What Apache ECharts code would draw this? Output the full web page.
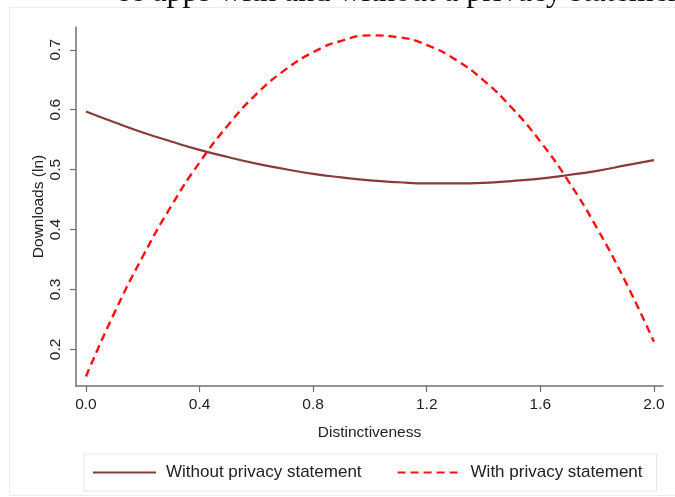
<!DOCTYPE html>
<html>
<head>
<meta charset="utf-8">
<script src="https://cdn.jsdelivr.net/npm/echarts@6/dist/echarts.min.js"></script>
<style>
html,body{margin:0;padding:0;background:#fff;}
#chart{width:675px;height:497px;}
</style>
</head>
<body>
<div id="chart"></div>
<script>
// Data
var distinctiveness = [0.0,0.1,0.2,0.3,0.4,0.5,0.6,0.7,0.8,0.9,1.0,1.1,1.2,1.3,1.4,1.5,1.6,1.7,1.8,1.9,2.0];
var withoutPrivacy = [0.597,0.579,0.562,0.547,0.533,0.521,0.510,0.501,0.493,0.487,0.482,0.479,0.477,0.477,0.478,0.481,0.485,0.491,0.498,0.507,0.516];
var withPrivacy = [0.155,0.261,0.355,0.439,0.512,0.574,0.626,0.666,0.696,0.715,0.724,0.721,0.708,0.684,0.649,0.603,0.547,0.480,0.402,0.313,0.213];
var xTicks = [0.0,0.4,0.8,1.2,1.6,2.0];
var yTicks = [0.2,0.3,0.4,0.5,0.6,0.7];
var seriesNames = ['Without privacy statement','With privacy statement'];
var titleText = 'ee apps with and without a privacy statement';

function pairs(xs, ys){ return xs.map(function(x,i){ return [x, ys[i]]; }); }

var font = '"Liberation Sans", Arial, Helvetica, sans-serif';
var axisColor = '#707070';
var chart = echarts.init(document.getElementById('chart'), null, {renderer:'canvas'});
chart.setOption({
  animation:false,
  backgroundColor:'#ffffff',
  textStyle:{fontFamily:font},
  graphic:[
    {type:'rect', shape:{x:9.5,y:7.5,width:700,height:488}, style:{fill:'none', stroke:'#ececec', lineWidth:1}, silent:true, z:-10},
    {type:'text', x:116, y:-7.5, style:{text:titleText, font:'32px "Liberation Serif", "Times New Roman", serif', fill:'#111', textAlign:'left', textVerticalAlign:'middle', verticalAlign:'middle'}, silent:true}
  ],
  grid:{left:76, right:12, top:27, bottom:111, containLabel:false},
  xAxis:{
    type:'value', min:-0.035, max:2.032,
    name:'Distinctiveness', nameLocation:'middle', nameGap:39, nameMoveOverlap:false,
    nameTextStyle:{fontSize:15.5, color:'#222', fontFamily:font},
    axisLine:{show:true, onZero:false, lineStyle:{color:axisColor, width:1.5}},
    axisTick:{show:true, length:6, customValues:xTicks, lineStyle:{color:axisColor, width:1.2}},
    axisLabel:{customValues:xTicks, margin:11, fontSize:15.5, color:'#222', fontFamily:font,
      formatter:function(v){ return v.toFixed(1); }},
    splitLine:{show:false}
  },
  yAxis:{
    type:'value', min:0.139, max:0.738,
    name:'Downloads (ln)', nameLocation:'middle', nameRotate:90, nameGap:29.5, nameMoveOverlap:false,
    nameTextStyle:{fontSize:15.5, color:'#222', fontFamily:font},
    axisLine:{show:true, onZero:false, lineStyle:{color:axisColor, width:1.5}},
    axisTick:{show:true, length:6, customValues:yTicks, lineStyle:{color:axisColor, width:1.2}},
    axisLabel:{customValues:yTicks, rotate:90, margin:12, fontSize:15.5, color:'#222', fontFamily:font,
      formatter:function(v){ return v.toFixed(1); }},
    splitLine:{show:false}
  },
  legend:{
    left:84, top:454,
    padding:[10,14,10,8],
    itemWidth:63, itemHeight:14, itemGap:35,
    borderColor:'#e6e6e6', borderWidth:1, backgroundColor:'#fff',
    itemStyle:{opacity:0},
    textStyle:{fontSize:17, color:'#222', fontFamily:font, padding:[0,0,0,5]},
    data:seriesNames
  },
  series:[
    {name:seriesNames[0], type:'line', data:pairs(distinctiveness, withoutPrivacy), smooth:true,
      symbol:'none',
      lineStyle:{color:'#8a3a3a', width:2.2, type:'solid'}, itemStyle:{color:'#8a3a3a'}},
    {name:seriesNames[1], type:'line', data:pairs(distinctiveness, withPrivacy), smooth:true,
      symbol:'none',
      lineStyle:{color:'#ff1010', width:2.4, type:[8,5]}, itemStyle:{color:'#ff1010'}}
  ]
});
</script>
</body>
</html>
